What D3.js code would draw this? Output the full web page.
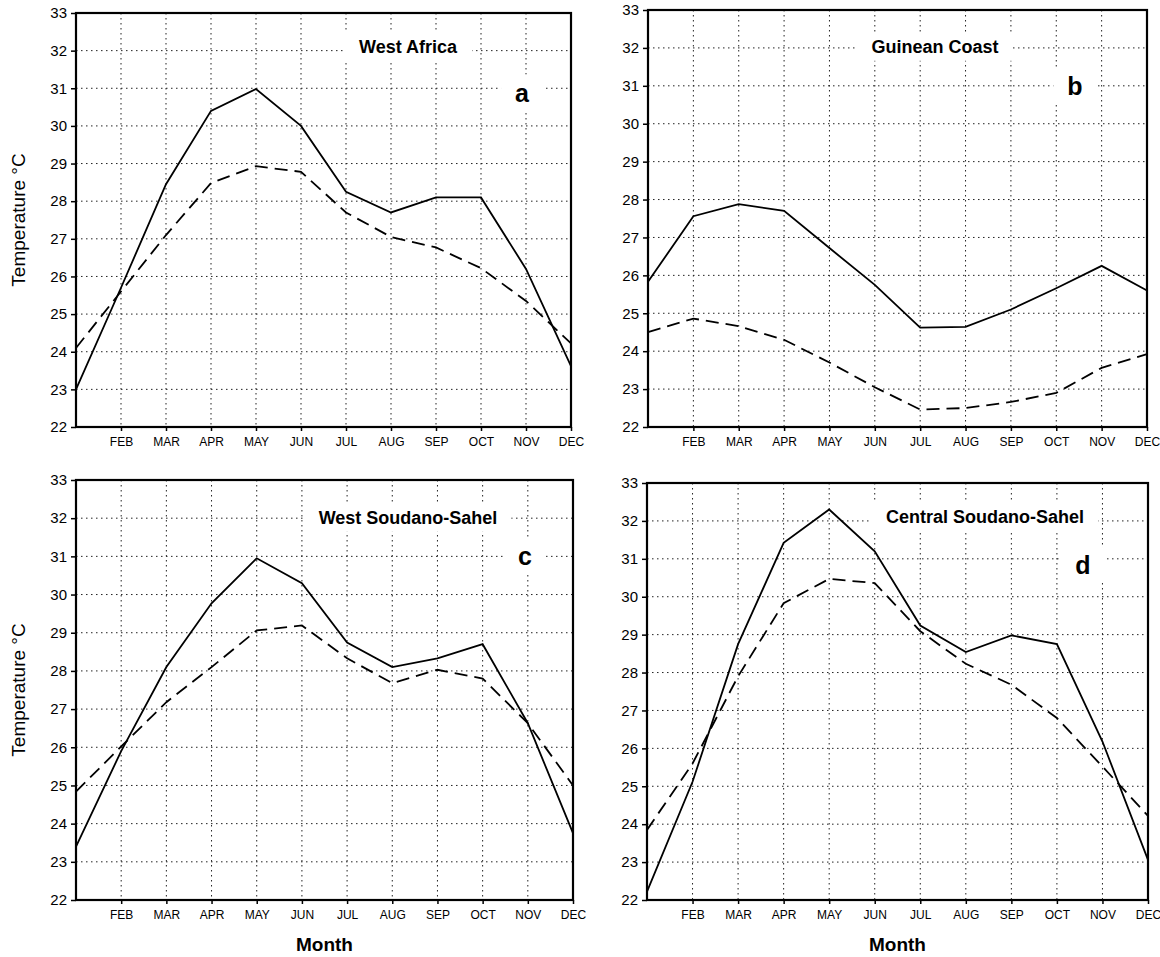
<!DOCTYPE html>
<html><head><meta charset="utf-8">
<script src="https://cdn.jsdelivr.net/npm/d3@7"></script>
<style>body{margin:0;background:#fff}svg{display:block}text{font-family:"Liberation Sans",Arial,Helvetica,sans-serif}</style>
</head><body>
<svg id="c" width="1160" height="957"></svg>
<script>
const months = ["JAN","FEB","MAR","APR","MAY","JUN","JUL","AUG","SEP","OCT","NOV","DEC"];
const yTicks = [22,23,24,25,26,27,28,29,30,31,32,33];
const titles = ["West Africa","Guinean Coast","West Soudano-Sahel","Central Soudano-Sahel"];
const letters = ["a","b","c","d"];
const solidA  = [23.0,25.7,28.45,30.4,30.98,30.0,28.25,27.7,28.1,28.1,26.2,23.62];
const dashedA = [24.1,25.6,27.1,28.48,28.93,28.78,27.7,27.05,26.77,26.22,25.35,24.22];
const solidB  = [25.83,27.56,27.88,27.7,26.72,25.75,24.62,24.64,25.1,25.66,26.25,25.6];
const dashedB = [24.5,24.86,24.66,24.3,23.7,23.05,22.46,22.5,22.66,22.9,23.56,23.92];
const solidC  = [23.4,25.9,28.1,29.77,30.95,30.3,28.74,28.1,28.33,28.7,26.63,23.75];
const dashedC = [24.84,26.02,27.18,28.1,29.06,29.19,28.33,27.68,28.03,27.8,26.63,25.0];
const solidD  = [22.22,25.12,28.75,31.42,32.3,31.2,29.24,28.54,28.98,28.75,26.18,23.06];
const dashedD = [23.85,25.6,27.9,29.83,30.47,30.36,29.09,28.23,27.68,26.8,25.52,24.22];

const seriesSets = [[solidA,dashedA],[solidB,dashedB],[solidC,dashedC],[solidD,dashedD]];
const boxes = [
  {x0:76,x1:571,y0:13,y1:427, tx:408,ty:48, lx:522,ly:95, ylab:true, xlab:false},
  {x0:648,x1:1147,y0:10,y1:427, tx:935,ty:48, lx:1075,ly:88, ylab:false, xlab:false},
  {x0:76,x1:573,y0:480,y1:900, tx:408,ty:519, lx:525,ly:558, ylab:true, xlab:true},
  {x0:647,x1:1148,y0:483,y1:900, tx:985,ty:518, lx:1083,ly:567, ylab:false, xlab:true}
];
const svg = d3.select("#c");

boxes.forEach((b,i)=>{
  const x = d3.scalePoint().domain(months).range([b.x0,b.x1]);
  const y = d3.scaleLinear().domain([22,33]).range([b.y1,b.y0]);
  const g = svg.append("g");
  g.selectAll(".gy").data(yTicks.slice(1,-1)).join("line")
    .attr("x1",b.x0).attr("x2",b.x1).attr("y1",d=>y(d)).attr("y2",d=>y(d))
    .attr("stroke","#222").attr("stroke-width",1).attr("stroke-dasharray","1.5,3.5");
  g.selectAll(".gx").data(months.slice(1,-1)).join("line")
    .attr("x1",d=>x(d)).attr("x2",d=>x(d)).attr("y1",b.y0).attr("y2",b.y1)
    .attr("stroke","#222").attr("stroke-width",1).attr("stroke-dasharray","1.5,3.5");
  const t = g.append("text").attr("x",b.tx).attr("y",b.ty).attr("text-anchor","middle")
    .attr("dominant-baseline","middle").attr("font-size",18).attr("font-weight","bold").text(titles[i]);
  const tb = t.node().getBBox();
  g.insert("rect","text").attr("x",tb.x-14).attr("y",tb.y-4).attr("width",tb.width+28).attr("height",tb.height+8).attr("fill","#fff");
  const l = g.append("text").attr("x",b.lx).attr("y",b.ly).attr("text-anchor","middle")
    .attr("dominant-baseline","middle").attr("font-size",25).attr("font-weight","bold").text(letters[i]);
  const lb = l.node().getBBox();
  g.insert("rect","text").attr("x",lb.x-14).attr("y",lb.y-4).attr("width",lb.width+28).attr("height",lb.height+8).attr("fill","#fff");
  const line = d3.line().x((d,k)=>x(months[k])).y(d=>y(d));
  g.append("path").datum(seriesSets[i][0]).attr("d",line).attr("fill","none").attr("stroke","#000").attr("stroke-width",1.8);
  g.append("path").datum(seriesSets[i][1]).attr("d",line).attr("fill","none").attr("stroke","#000").attr("stroke-width",1.8).attr("stroke-dasharray","13,7");
  const ya = g.append("g").attr("transform",`translate(${b.x0},0)`)
    .call(d3.axisLeft(y).tickValues(yTicks).tickSize(5).tickPadding(4).tickFormat(d3.format("d")));
  ya.select(".domain").remove();
  ya.selectAll("text").attr("font-size",15).attr("font-family","Liberation Sans,Arial,sans-serif").attr("fill","#000");
  ya.selectAll("line").attr("stroke-width",1.5);
  const xa = g.append("g").attr("transform",`translate(0,${b.y1})`)
    .call(d3.axisBottom(x).tickValues(months.slice(1)).tickSize(4).tickPadding(6));
  xa.select(".domain").remove();
  xa.selectAll("text").attr("font-size",12).attr("font-family","Liberation Sans,Arial,sans-serif").attr("fill","#000");
  xa.selectAll("line").attr("stroke-width",1.5);
  g.append("rect").attr("x",b.x0).attr("y",b.y0).attr("width",b.x1-b.x0).attr("height",b.y1-b.y0)
    .attr("fill","none").attr("stroke","#000").attr("stroke-width",2.2);
  if(b.ylab){
    const cy=(b.y0+b.y1)/2;
    svg.append("text").attr("transform",`translate(25,${cy}) rotate(-90)`).attr("text-anchor","middle")
      .attr("font-size",19).text("Temperature \u00B0C");
  }
  if(b.xlab){
    svg.append("text").attr("x",(b.x0+b.x1)/2).attr("y",951).attr("text-anchor","middle")
      .attr("font-size",19).attr("font-weight","bold").text("Month");
  }
});
</script>
</body></html>
